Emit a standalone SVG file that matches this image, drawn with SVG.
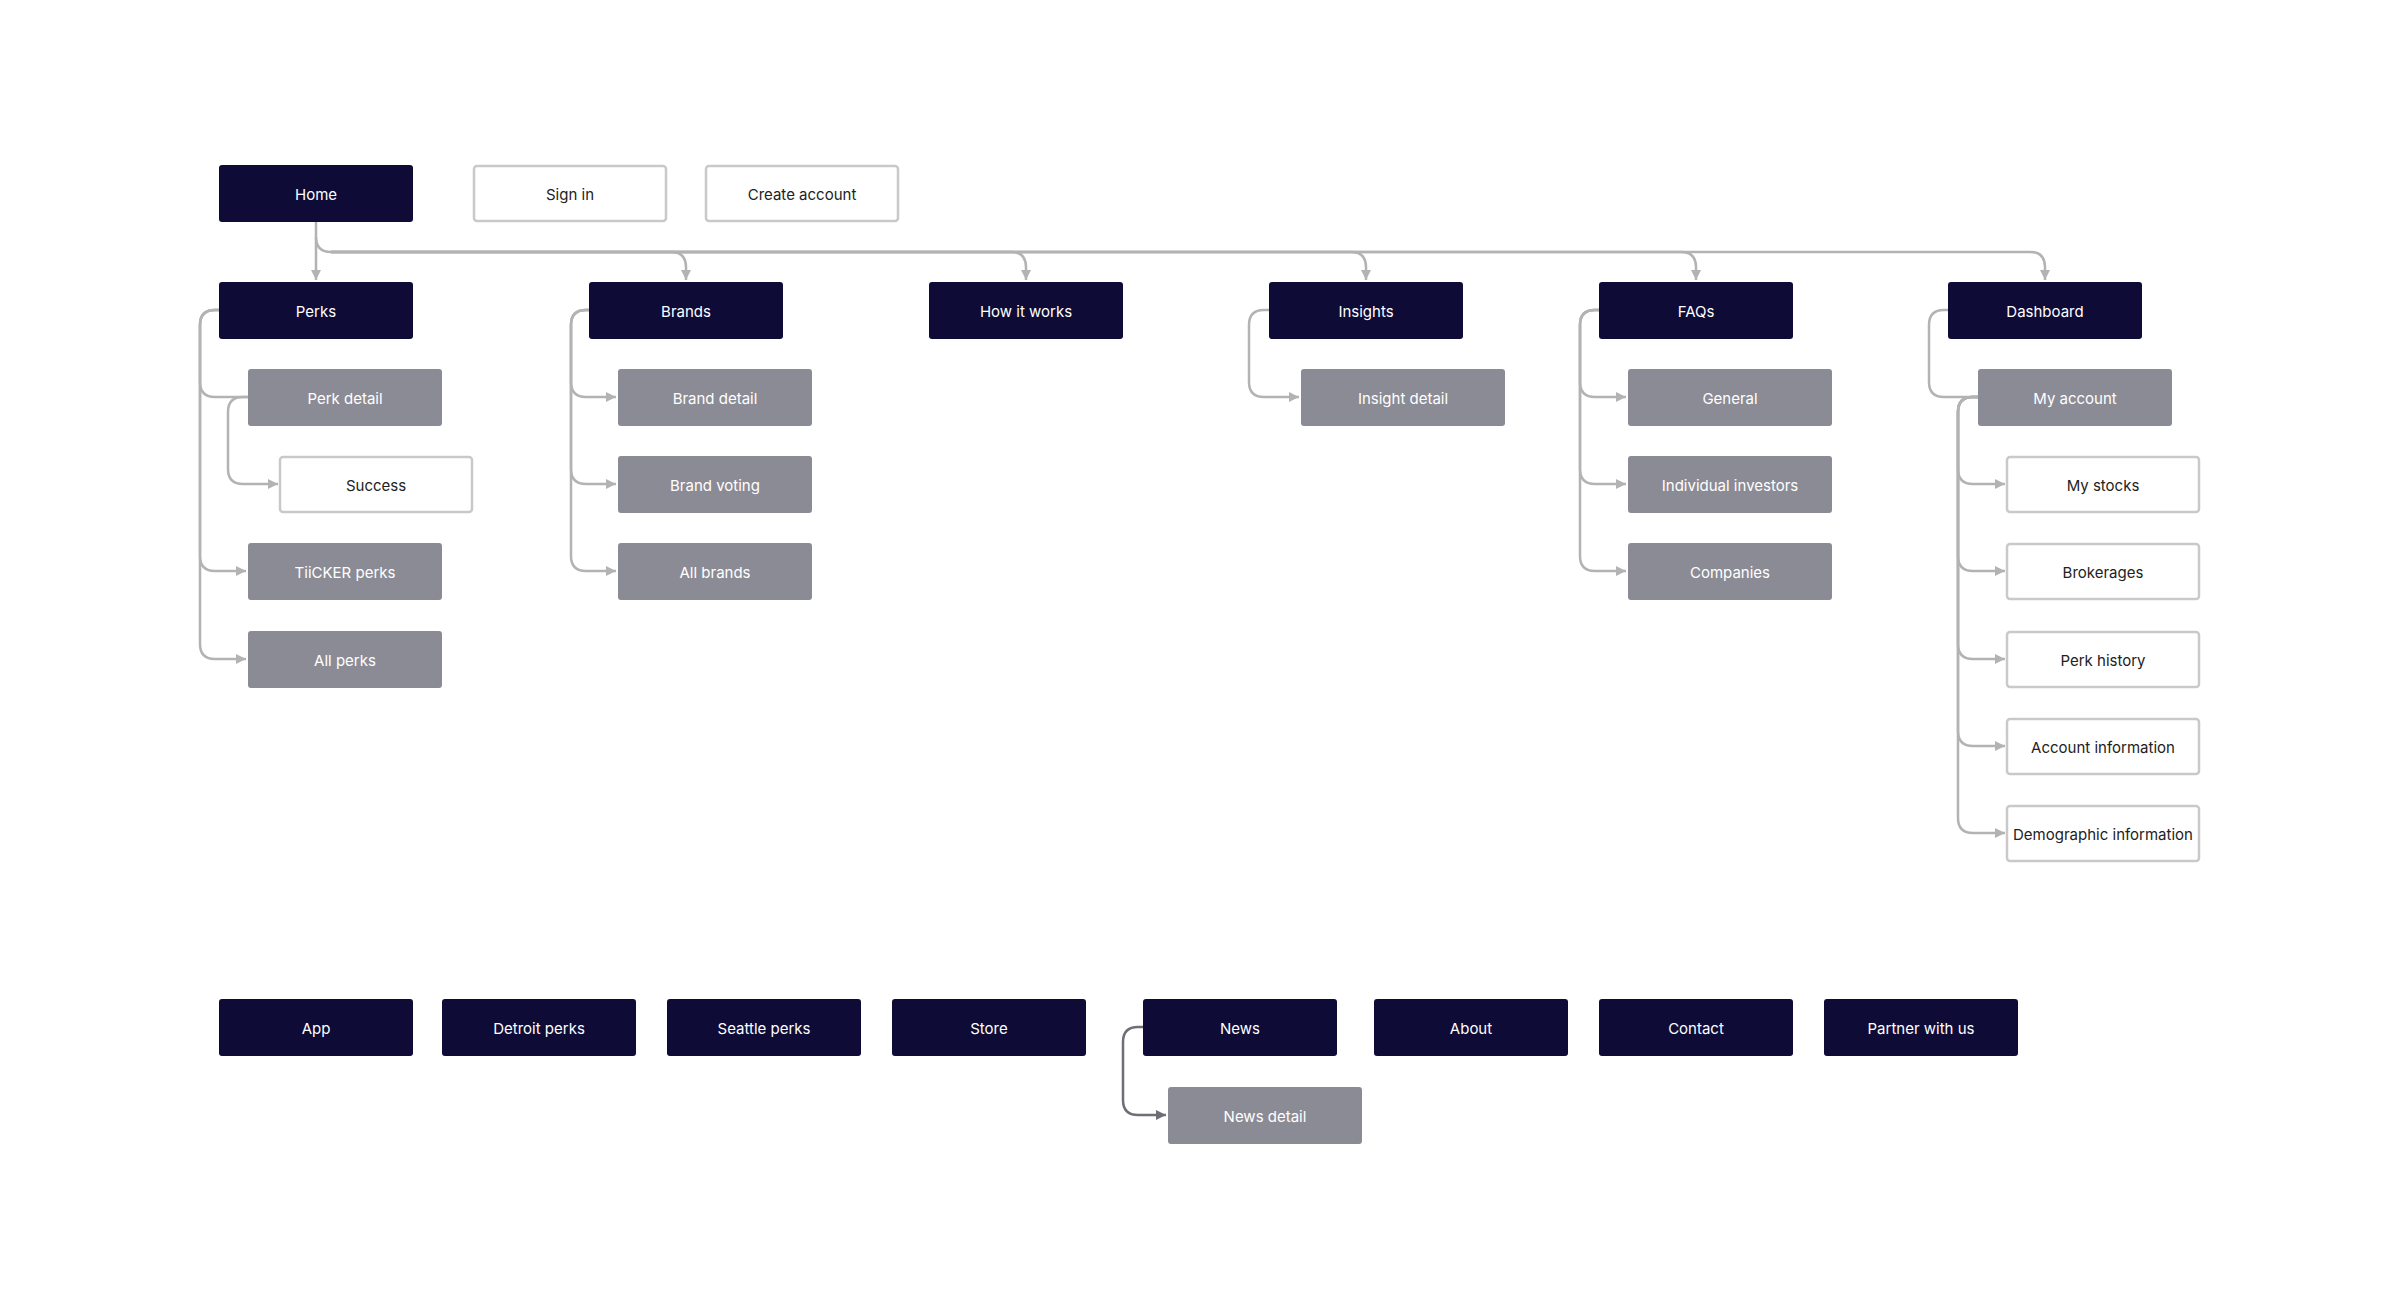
<svg xmlns="http://www.w3.org/2000/svg" width="2400" height="1309" viewBox="0 0 2400 1309">
<defs>
<style>
.d{fill:#0e0b36}.g{fill:#8b8b95}.w{fill:#fff;stroke:#c9c9c9;stroke-width:2.5}
text{font-family:Inter,"Liberation Sans",sans-serif;font-size:15px;text-anchor:middle;dominant-baseline:central}
.d+text,.g+text{fill:#fff}.w+text{fill:#222}
.c path{fill:none;stroke:#b3b3b3;stroke-width:2.5}
.c path.a{marker-end:url(#ar)}
.c path.n{stroke:#6e6e76;marker-end:url(#ar2)}
</style>
<marker id="ar" markerUnits="userSpaceOnUse" markerWidth="11" markerHeight="11" refX="10" refY="5" orient="auto"><path d="M0,0L10,5L0,10z" fill="#b3b3b3"/></marker>
<marker id="ar2" markerUnits="userSpaceOnUse" markerWidth="11" markerHeight="11" refX="10" refY="5" orient="auto"><path d="M0,0L10,5L0,10z" fill="#6e6e76"/></marker>
</defs>
<rect width="2400" height="1309" fill="#fff"/>
<g class="c" id="connectors">
<path class="a" d="M316,222V280"/>
<path class="a" d="M316,237Q316,252 331,252H671Q686,252 686,267V280"/>
<path class="a" d="M331,252H1011Q1026,252 1026,267V280"/>
<path class="a" d="M331,252H1351Q1366,252 1366,267V280"/>
<path class="a" d="M331,252H1681Q1696,252 1696,267V280"/>
<path class="a" d="M331,252H2030Q2045,252 2045,267V280"/>
<path d="M219,310H215Q200,310 200,325V382Q200,397 215,397H248"/>
<path d="M248,397H243Q228,397 228,412V469Q228,484 243,484H278" class="a"/>
<path class="a" d="M219,310H215Q200,310 200,325V556Q200,571 215,571H246"/>
<path class="a" d="M219,310H215Q200,310 200,325V644Q200,659 215,659H246"/>
<path class="a" d="M589,310H586Q571,310 571,325V382Q571,397 586,397H616"/>
<path class="a" d="M589,310H586Q571,310 571,325V469Q571,484 586,484H616"/>
<path class="a" d="M589,310H586Q571,310 571,325V556Q571,571 586,571H616"/>
<path class="a" d="M1269,310H1264Q1249,310 1249,325V382Q1249,397 1264,397H1299"/>
<path class="a" d="M1599,310H1595Q1580,310 1580,325V382Q1580,397 1595,397H1626"/>
<path class="a" d="M1599,310H1595Q1580,310 1580,325V469Q1580,484 1595,484H1626"/>
<path class="a" d="M1599,310H1595Q1580,310 1580,325V556Q1580,571 1595,571H1626"/>
<path d="M1948,310H1944Q1929,310 1929,325V382Q1929,397 1944,397H1978"/>
<path class="a" d="M1978,397H1973Q1958,397 1958,412V469Q1958,484 1973,484H2005"/>
<path class="a" d="M1978,397H1973Q1958,397 1958,412V556Q1958,571 1973,571H2005"/>
<path class="a" d="M1978,397H1973Q1958,397 1958,412V644Q1958,659 1973,659H2005"/>
<path class="a" d="M1978,397H1973Q1958,397 1958,412V731Q1958,746 1973,746H2005"/>
<path class="a" d="M1978,397H1973Q1958,397 1958,412V818Q1958,833 1973,833H2005"/>
<path class="n" d="M1143,1027H1138Q1123,1027 1123,1042V1100Q1123,1115 1138,1115H1166"/>
</g>
<g id="home"><rect class="d" x="219" y="165" width="194" height="57" rx="3"/><text x="316" y="194">Home</text></g>
<g id="signin"><rect class="w" x="474" y="166" width="192" height="55" rx="3"/><text x="570" y="194">Sign in</text></g>
<g id="create"><rect class="w" x="706" y="166" width="192" height="55" rx="3"/><text x="802" y="194">Create account</text></g>
<g id="perks"><rect class="d" x="219" y="282" width="194" height="57" rx="3"/><text x="316" y="311">Perks</text></g>
<g id="brands"><rect class="d" x="589" y="282" width="194" height="57" rx="3"/><text x="686" y="311">Brands</text></g>
<g id="how"><rect class="d" x="929" y="282" width="194" height="57" rx="3"/><text x="1026" y="311">How it works</text></g>
<g id="insights"><rect class="d" x="1269" y="282" width="194" height="57" rx="3"/><text x="1366" y="311">Insights</text></g>
<g id="faqs"><rect class="d" x="1599" y="282" width="194" height="57" rx="3"/><text x="1696" y="311">FAQs</text></g>
<g id="dashboard"><rect class="d" x="1948" y="282" width="194" height="57" rx="3"/><text x="2045" y="311">Dashboard</text></g>
<g id="perkdetail"><rect class="g" x="248" y="369" width="194" height="57" rx="3"/><text x="345" y="398">Perk detail</text></g>
<g id="success"><rect class="w" x="280" y="457" width="192" height="55" rx="3"/><text x="376" y="485">Success</text></g>
<g id="tiicker"><rect class="g" x="248" y="543" width="194" height="57" rx="3"/><text x="345" y="572">TiiCKER perks</text></g>
<g id="allperks"><rect class="g" x="248" y="631" width="194" height="57" rx="3"/><text x="345" y="660">All perks</text></g>
<g id="branddetail"><rect class="g" x="618" y="369" width="194" height="57" rx="3"/><text x="715" y="398">Brand detail</text></g>
<g id="brandvoting"><rect class="g" x="618" y="456" width="194" height="57" rx="3"/><text x="715" y="485">Brand voting</text></g>
<g id="allbrands"><rect class="g" x="618" y="543" width="194" height="57" rx="3"/><text x="715" y="572">All brands</text></g>
<g id="insightdetail"><rect class="g" x="1301" y="369" width="204" height="57" rx="3"/><text x="1403" y="398">Insight detail</text></g>
<g id="general"><rect class="g" x="1628" y="369" width="204" height="57" rx="3"/><text x="1730" y="398">General</text></g>
<g id="individual"><rect class="g" x="1628" y="456" width="204" height="57" rx="3"/><text x="1730" y="485">Individual investors</text></g>
<g id="companies"><rect class="g" x="1628" y="543" width="204" height="57" rx="3"/><text x="1730" y="572">Companies</text></g>
<g id="myaccount"><rect class="g" x="1978" y="369" width="194" height="57" rx="3"/><text x="2075" y="398">My account</text></g>
<g id="mystocks"><rect class="w" x="2007" y="457" width="192" height="55" rx="3"/><text x="2103" y="485">My stocks</text></g>
<g id="brokerages"><rect class="w" x="2007" y="544" width="192" height="55" rx="3"/><text x="2103" y="572">Brokerages</text></g>
<g id="perkhistory"><rect class="w" x="2007" y="632" width="192" height="55" rx="3"/><text x="2103" y="660">Perk history</text></g>
<g id="accountinfo"><rect class="w" x="2007" y="719" width="192" height="55" rx="3"/><text x="2103" y="747">Account information</text></g>
<g id="demoinfo"><rect class="w" x="2007" y="806" width="192" height="55" rx="3"/><text x="2103" y="834">Demographic information</text></g>
<g id="app"><rect class="d" x="219" y="999" width="194" height="57" rx="3"/><text x="316" y="1028">App</text></g>
<g id="detroit"><rect class="d" x="442" y="999" width="194" height="57" rx="3"/><text x="539" y="1028">Detroit perks</text></g>
<g id="seattle"><rect class="d" x="667" y="999" width="194" height="57" rx="3"/><text x="764" y="1028">Seattle perks</text></g>
<g id="store"><rect class="d" x="892" y="999" width="194" height="57" rx="3"/><text x="989" y="1028">Store</text></g>
<g id="news"><rect class="d" x="1143" y="999" width="194" height="57" rx="3"/><text x="1240" y="1028">News</text></g>
<g id="about"><rect class="d" x="1374" y="999" width="194" height="57" rx="3"/><text x="1471" y="1028">About</text></g>
<g id="contact"><rect class="d" x="1599" y="999" width="194" height="57" rx="3"/><text x="1696" y="1028">Contact</text></g>
<g id="partner"><rect class="d" x="1824" y="999" width="194" height="57" rx="3"/><text x="1921" y="1028">Partner with us</text></g>
<g id="newsdetail"><rect class="g" x="1168" y="1087" width="194" height="57" rx="3"/><text x="1265" y="1116">News detail</text></g>
</svg>
